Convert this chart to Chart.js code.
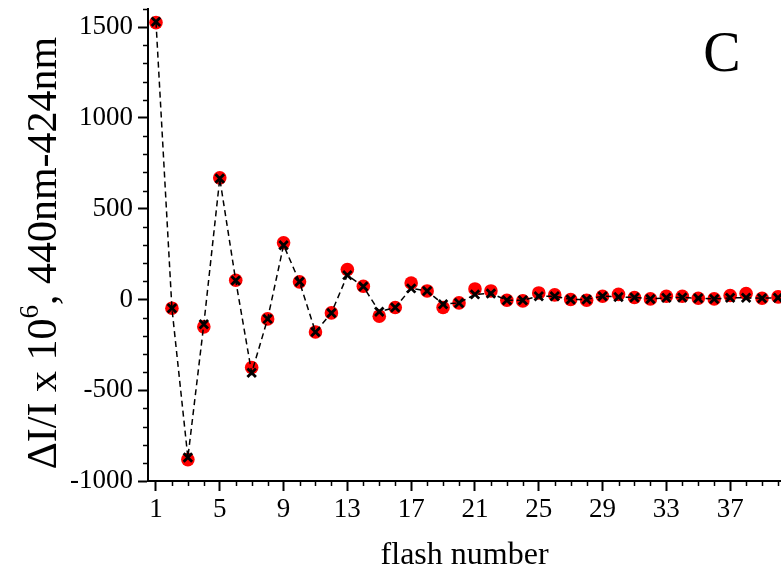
<!DOCTYPE html>
<html>
<head>
<meta charset="utf-8">
<script src="https://cdn.jsdelivr.net/npm/chart.js@4"></script>
<style>
  html, body { margin: 0; background: #fff; overflow: hidden; }
  #wrap { width: 790px; height: 577px; }
</style>
</head>
<body>
<div id="wrap"><canvas id="flashChart"></canvas></div>
<script>
// flash numbers on the x axis
const flashes = [1, 2, 3, 4, 5, 6, 7, 8, 9, 10, 11, 12, 13, 14, 15, 16, 17, 18, 19, 20,
  21, 22, 23, 24, 25, 26, 27, 28, 29, 30, 31, 32, 33, 34, 35, 36, 37, 38, 39, 40];

// measured signal (red dots)
const measured = [1525, -48, -882, -151, 670, 106, -375, -107, 312, 97, -179, -74, 165, 73, -92, -44, 91, 47, -44, -19,
  58, 47, -4, -8, 36, 25, 0, -4, 18, 28, 11, 3, 18, 18, 7, 3, 22, 33, 7, 14];

// fitted signal (black crosses, dashed line)
const fitted = [1530, -48, -871, -136, 666, 104, -404, -107, 299, 97, -179, -74, 134, 71, -68, -44, 61, 47, -26, -19,
  28, 33, -4, -4, 18, 18, 0, 0, 18, 14, 11, 3, 9, 11, 7, 3, 9, 9, 7, 9];

// labelled ticks
const xTicks = [1, 5, 9, 13, 17, 21, 25, 29, 33, 37];
const yTicks = [-1000, -500, 0, 500, 1000, 1500];

const serif = 'Liberation Serif';

// minor ticks, the y title with superscript and the panel letter
const decor = {
  id: 'decor',
  afterDraw(chart) {
    const { ctx, chartArea } = chart;
    const x = chart.scales.x, y = chart.scales.y;
    ctx.save();
    ctx.strokeStyle = '#000';
    ctx.lineWidth = 1.5;
    ctx.beginPath();
    for (let v = -1000; v <= 1600; v += 100) {
      if (yTicks.includes(v)) continue;
      const py = Math.round(y.getPixelForValue(v)) + 0.5;
      ctx.moveTo(chartArea.left - 5, py);
      ctx.lineTo(chartArea.left, py);
    }
    for (let n = 1; n <= 41; n++) {
      if (xTicks.includes(n)) continue;
      const px = Math.round(x.getPixelForValue(n)) + 0.5;
      if (px > chartArea.right) break;
      ctx.moveTo(px, chartArea.bottom);
      ctx.lineTo(px, chartArea.bottom + 5);
    }
    ctx.stroke();

    // y axis title
    ctx.fillStyle = '#000';
    ctx.textBaseline = 'alphabetic';
    ctx.translate(56, 253);
    ctx.rotate(-Math.PI / 2);
    const big = '42px ' + serif, small = '27px ' + serif;
    const p1 = '\u0394I/I x 10', p2 = '6', p3 = ', 440nm-424nm';
    ctx.font = big;
    const w1 = ctx.measureText(p1).width, w3 = ctx.measureText(p3).width;
    ctx.font = small;
    const w2 = ctx.measureText(p2).width;
    let cx = -(w1 + w2 + w3) / 2;
    ctx.font = big;
    ctx.fillText(p1, cx, 0);
    cx += w1;
    ctx.font = small;
    ctx.fillText(p2, cx, -18);
    cx += w2;
    ctx.font = big;
    ctx.fillText(p3, cx, 0);
    ctx.restore();

    ctx.save();
    ctx.fillStyle = '#000';
    ctx.font = '56px ' + serif;
    ctx.textAlign = 'center';
    ctx.textBaseline = 'alphabetic';
    ctx.fillText('C', 722, 71);
    ctx.restore();
  }
};

new Chart(document.getElementById('flashChart'), {
  type: 'scatter',
  data: {
    datasets: [{
      label: 'fit',
      data: flashes.map((f, i) => ({ x: f, y: fitted[i] })),
      showLine: true,
      borderColor: '#000',
      borderWidth: 1.5,
      borderDash: [6, 4],
      pointStyle: 'crossRot',
      pointRadius: 6,
      pointBorderWidth: 2.8,
      pointBorderColor: '#000',
      order: 0
    }, {
      label: 'data',
      data: flashes.map((f, i) => ({ x: f, y: measured[i] })),
      showLine: false,
      pointRadius: 6.8,
      pointBackgroundColor: '#ff0000',
      pointBorderColor: '#ff0000',
      pointBorderWidth: 0,
      order: 1
    }]
  },
  options: {
    responsive: true,
    maintainAspectRatio: false,
    animation: false,
    layout: { padding: { top: 9, left: 0, right: 0, bottom: 0 } },
    plugins: { legend: { display: false }, tooltip: { enabled: false } },
    scales: {
      x: {
        type: 'linear',
        min: 0.5,
        max: 40.2,
        afterBuildTicks: (s) => { s.ticks = xTicks.map(v => ({ value: v })); },
        afterFit: (s) => { s.height = 96; s.paddingLeft = 0; s.paddingRight = 0; },
        border: { display: true, color: '#000', width: 2 },
        grid: { drawOnChartArea: false, drawTicks: true, tickLength: 10, tickWidth: 2, tickColor: '#000' },
        ticks: { color: '#000', font: { family: serif, size: 27 }, padding: 3, maxRotation: 0, autoSkip: false },
        title: { display: true, text: 'flash number', color: '#000', font: { family: serif, size: 32 }, padding: { top: 0, bottom: 2 } }
      },
      y: {
        min: -1000,
        max: 1600,
        afterBuildTicks: (s) => { s.ticks = yTicks.map(v => ({ value: v })); },
        afterFit: (s) => { s.width = 148; s.paddingTop = 0; s.paddingBottom = 0; },
        border: { display: true, color: '#000', width: 2 },
        grid: { drawOnChartArea: false, drawTicks: true, tickLength: 10, tickWidth: 2, tickColor: '#000' },
        ticks: { color: '#000', font: { family: serif, size: 27 }, padding: 5, callback: (v) => String(v) }
      }
    }
  },
  plugins: [decor]
});
</script>
</body>
</html>
